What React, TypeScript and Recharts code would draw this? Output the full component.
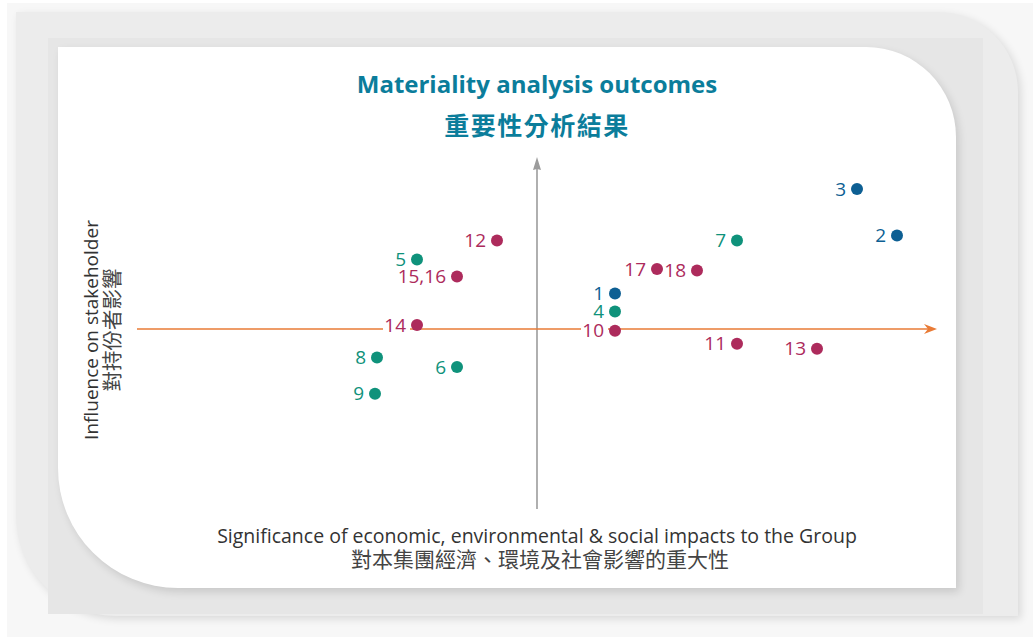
import { ScatterChart, Scatter, XAxis, YAxis, ReferenceLine } from "recharts";

// topic numbers as printed beside each dot
const labels = ["1", "2", "3", "4", "5", "6", "7", "8", "9", "10", "11", "12", "13", "14", "15,16", "17", "18"];
// significance of impacts to the Group (horizontal)
const impact = [1.95, 9, 8, 1.95, -3, -2, 5, -4, -4.05, 1.95, 5, -1, 7, -3, -2, 3, 4];
// influence on stakeholder (vertical)
const influence = [1.77, 4.68, 7.0, 0.88, 3.47, -1.9, 4.43, -1.42, -3.24, -0.09, -0.74, 4.42, -0.99, 0.2, 2.63, 3.0, 2.93];
const groups = ["blue", "blue", "blue", "green", "green", "green", "green", "green", "green", "crimson", "crimson", "crimson", "crimson", "crimson", "crimson", "crimson", "crimson"];

const colors: Record<string, string> = {
  blue: "#0d5f93",
  green: "#0f927b",
  crimson: "#ad2b5c",
};

const points = labels.map((label, i) => ({ label, x: impact[i], y: influence[i], group: groups[i] }));

const FONT = "'Open Sans', 'Noto Sans CJK TC', sans-serif";
const CJK = "'Noto Sans CJK TC', sans-serif";

const labelledDot = (color: string) => (props: any) => {
  const { cx, cy, payload } = props;
  const w = payload.label.length * 10.5;
  return (
    <g>
      <rect x={cx - 12 - w - 1} y={cy - 8} width={w + 6} height={16} fill="#fff" />
      <circle cx={cx} cy={cy} r={6} fill={color} />
      <text x={cx - 11} y={cy} dy={6.5} textAnchor="end" fill={color} fontSize={19} fontFamily={FONT}>
        {payload.label}
      </text>
    </g>
  );
};

const arrow = (color: string, len: number, half: number, notch: number) => (props: any) => {
  const { x1, y1, x2, y2 } = props;
  const dx = x2 - x1;
  const dy = y2 - y1;
  const L = Math.hypot(dx, dy) || 1;
  const ux = dx / L;
  const uy = dy / L;
  const px = -uy;
  const py = ux;
  const bx = x2 - ux * len;
  const by = y2 - uy * len;
  const nx = x2 - ux * (len - notch);
  const ny = y2 - uy * (len - notch);
  return (
    <g>
      <line x1={x1} y1={y1} x2={nx} y2={ny} stroke={color} strokeWidth={1.6} />
      <polygon
        points={`${x2},${y2} ${bx + px * half},${by + py * half} ${nx},${ny} ${bx - px * half},${by - py * half}`}
        fill={color}
      />
    </g>
  );
};

export default function App() {
  return (
    <div style={{ position: "absolute", left: 0, top: 0, width: 1033, height: 639, background: "#fff", overflow: "hidden" }}>
      {/* layered card background */}
      <div style={{ position: "absolute", left: 7, top: 3, width: 1026, height: 634, background: "#f7f7f7" }} />
      <div
        style={{
          position: "absolute",
          left: 16,
          top: 12,
          width: 1002,
          height: 604,
          background: "#ececec",
          borderTopRightRadius: 80,
          borderBottomLeftRadius: 100,
          boxShadow: "3px 3px 8px rgba(0,0,0,0.12)",
        }}
      />
      <div style={{ position: "absolute", left: 48, top: 38, width: 935, height: 576, background: "#e6e6e6" }} />
      <div
        style={{
          position: "absolute",
          left: 58,
          top: 47,
          width: 898,
          height: 541,
          background: "#fff",
          borderTopRightRadius: 90,
          borderBottomLeftRadius: 120,
          boxShadow: "3px 4px 9px rgba(0,0,0,0.13)",
        }}
      />

      <div style={{ position: "absolute", left: 0, top: 0 }}>
        <ScatterChart width={1033} height={639} margin={{ top: 149, right: 96, bottom: 130, left: 137 }}>
          <XAxis type="number" dataKey="x" domain={[-10, 10]} hide allowDataOverflow />
          <YAxis type="number" dataKey="y" domain={[-9, 9]} hide allowDataOverflow />
          <ReferenceLine
            segment={[{ x: 0, y: -9 }, { x: 0, y: 8.6 }]}
            shape={arrow("#9c9c9c", 13, 4, 1)}
          />
          <ReferenceLine
            segment={[{ x: -10, y: 0 }, { x: 10, y: 0 }]}
            shape={arrow("#e97b36", 13, 5, 4)}
          />
          {["blue", "green", "crimson"].map((g) => (
            <Scatter
              key={g}
              data={points.filter((p) => p.group === g)}
              fill={colors[g]}
              shape={labelledDot(colors[g])}
              isAnimationActive={false}
            />
          ))}
        </ScatterChart>
      </div>

      {/* title */}
      <div
        style={{
          position: "absolute",
          left: 137,
          top: 69,
          width: 800,
          textAlign: "center",
          fontFamily: FONT,
          fontWeight: 700,
          fontSize: 24,
          lineHeight: "30px",
          color: "#0b7d9b",
          letterSpacing: 0,
        }}
      >
        Materiality analysis outcomes
      </div>
      <div
        style={{
          position: "absolute",
          left: 137,
          top: 109,
          width: 800,
          textAlign: "center",
          fontFamily: CJK,
          fontWeight: 700,
          fontSize: 25,
          lineHeight: "30px",
          color: "#0b7d9b",
          letterSpacing: 1.5,
        }}
      >
        重要性分析結果
      </div>

      {/* horizontal axis label */}
      <div
        style={{
          position: "absolute",
          left: 137,
          top: 525,
          width: 800,
          textAlign: "center",
          fontFamily: FONT,
          fontSize: 19.5,
          lineHeight: "22px",
          color: "#333",
          whiteSpace: "nowrap",
        }}
      >
        <div>Significance of economic, environmental &amp; social impacts to the Group</div>
        <div style={{ fontFamily: CJK, fontSize: 21, color: "#444", paddingLeft: 6 }}>
          對本集團經濟、環境及社會影響的重大性
        </div>
      </div>

      {/* vertical axis label */}
      <div
        style={{
          position: "absolute",
          left: 101 - 150,
          top: 330 - 20,
          width: 300,
          height: 40,
          transform: "rotate(-90deg)",
          transformOrigin: "center",
          textAlign: "center",
          fontFamily: FONT,
          fontSize: 19,
          lineHeight: "20px",
          color: "#333",
          whiteSpace: "nowrap",
        }}
      >
        <div>Influence on stakeholder</div>
        <div style={{ fontFamily: CJK, fontSize: 20.5, color: "#444" }}>對持份者影響</div>
      </div>
    </div>
  );
}
